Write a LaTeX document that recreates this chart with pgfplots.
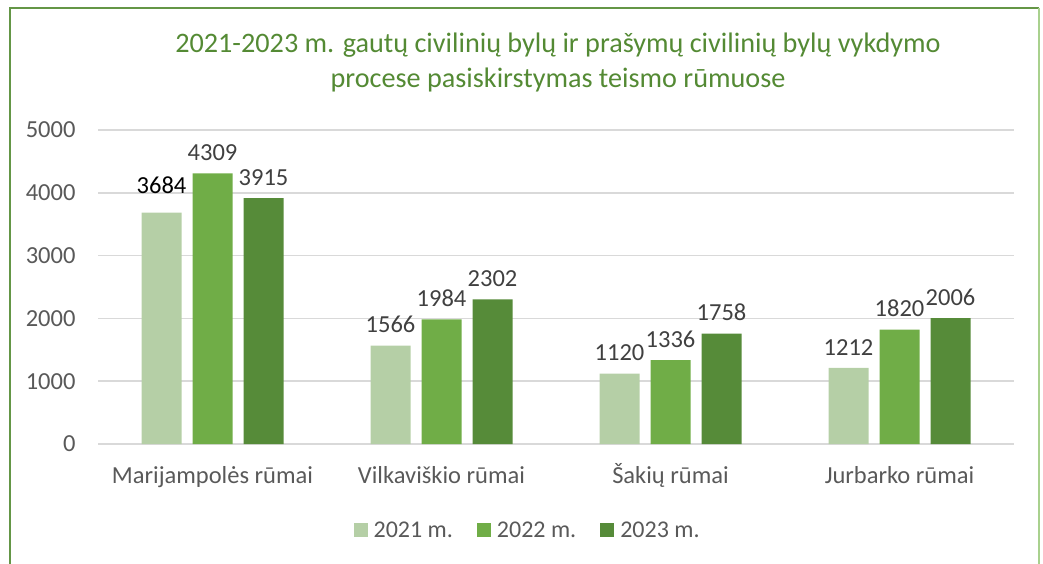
\documentclass[border=0pt]{standalone}
\usepackage{pgfplots}
\pgfplotsset{compat=1.18}
\usepackage{fontspec}
\setmainfont{Carlito}
\definecolor{cLight}{RGB}{181,207,166}
\definecolor{cMid}{RGB}{112,173,71}
\definecolor{cDark}{RGB}{86,139,57}
\definecolor{titlegreen}{RGB}{84,138,52}
\definecolor{borderdark}{RGB}{100,150,70}
\definecolor{borderlight}{RGB}{169,209,142}
\definecolor{gridgray}{RGB}{217,217,217}
\definecolor{tickgray}{RGB}{89,89,89}
\definecolor{labelgray}{RGB}{64,64,64}
\begin{document}
\begin{tikzpicture}
\path[use as bounding box] (0pt,0pt) rectangle (1043pt,563pt);
\draw[borderdark, line width=1.5pt] (10pt,-5pt) -- (10pt,555pt) -- (1039pt,555pt);
\draw[borderlight, line width=1.5pt] (1039pt,555pt) -- (1039pt,-5pt);
\node[align=center, text=titlegreen, font=\fontsize{28.2}{35}\selectfont] at (558pt,500.5pt)
  {2021-2023 m. gautų civilinių bylų ir prašymų civilinių bylų vykdymo\\procese pasiskirstymas teismo rūmuose};
\begin{axis}[
  at={(98pt,119pt)}, anchor=south west,
  scale only axis, width=916pt, height=314pt,
  ybar=11pt, bar width=40pt,
  xmin=-0.5, xmax=3.5, ymin=0, ymax=5000,
  xtick={0,1,2,3},
  xticklabels={Marijampolės rūmai, Vilkaviškio rūmai, Šakių rūmai, Jurbarko rūmai},
  ytick={0,1000,2000,3000,4000,5000},
  /pgf/number format/assume math mode=true,
  /pgf/number format/1000 sep={},
  ymajorgrids, grid style={gridgray, line width=1.5pt},
  axis line style={draw=none},
  major tick length=0pt,
  tick label style={font=\fontsize{24.5}{28}\selectfont, text=tickgray},
  xticklabel style={anchor=north, text height=17pt, text depth=5pt, yshift=-19pt},
  yticklabel style={xshift=-19pt},
  nodes near coords,
  visualization depends on={rawy \as \rawy},
  every node near coord/.append style={font=\fontsize{24.5}{28}\selectfont, text=labelgray, yshift={(\rawy==3684)*6+9}},
  legend columns=3,
  legend style={draw=none, at={(0.469,-0.274)}, anchor=center, font=\fontsize{24}{28}\selectfont, text=tickgray,
    /tikz/every odd column/.append style={column sep=4pt},
    /tikz/every even column/.append style={column sep=22pt}},
  legend image code/.code={\fill[#1] (0pt,-7pt) rectangle (14pt,7pt);},
]
\addplot[fill=cLight, draw=none, point meta=explicit symbolic] coordinates {(0,3684) [{\textcolor{black}{3684}}] (1,1566) [1566] (2,1120) [1120] (3,1212) [1212]};
\addplot[fill=cMid, draw=none] coordinates {(0,4309) (1,1984) (2,1336) (3,1820)};
\addplot[fill=cDark, draw=none] coordinates {(0,3915) (1,2302) (2,1758) (3,2006)};
\legend{2021 m., 2022 m., 2023 m.}
\end{axis}
\end{tikzpicture}
\end{document}
